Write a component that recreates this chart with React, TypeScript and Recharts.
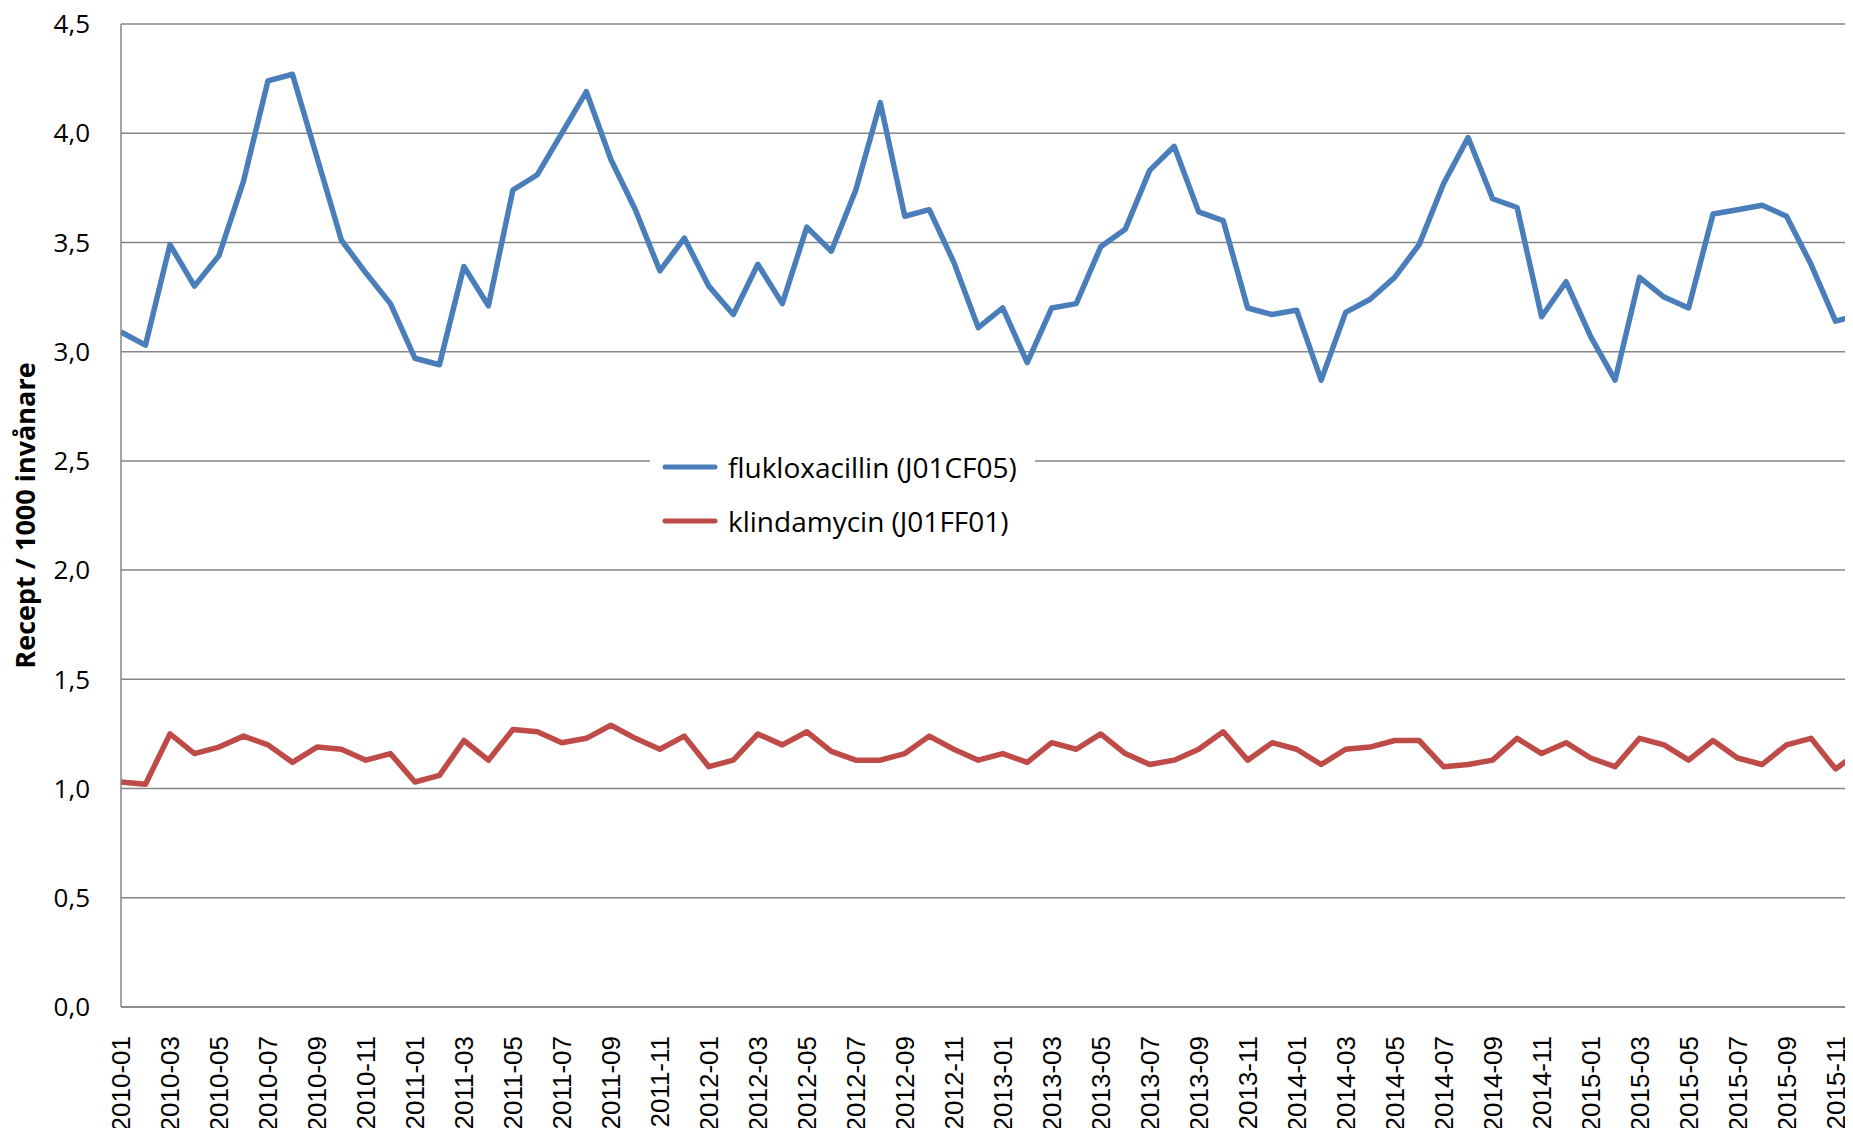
import React from 'react';
import { LineChart, Line, XAxis, YAxis, CartesianGrid, Legend } from 'recharts';

// categories: monthly, 2010-01 .. 2015-12
const years = ['2010', '2011', '2012', '2013', '2014', '2015'];
const monthNums = ['01', '02', '03', '04', '05', '06', '07', '08', '09', '10', '11', '12'];
const periods = years.flatMap((y) => monthNums.map((m) => `${y}-${m}`));

// recept / 1000 invånare
const flukloxacillin = [
  3.09, 3.03, 3.49, 3.30, 3.44, 3.78, 4.24, 4.27, 3.89, 3.51,
  3.36, 3.22, 2.97, 2.94, 3.39, 3.21, 3.74, 3.81, 4.00, 4.19,
  3.88, 3.65, 3.37, 3.52, 3.30, 3.17, 3.40, 3.22, 3.57, 3.46,
  3.74, 4.14, 3.62, 3.65, 3.41, 3.11, 3.20, 2.95, 3.20, 3.22,
  3.48, 3.56, 3.83, 3.94, 3.64, 3.60, 3.20, 3.17, 3.19, 2.87,
  3.18, 3.24, 3.34, 3.49, 3.77, 3.98, 3.70, 3.66, 3.16, 3.32,
  3.07, 2.87, 3.34, 3.25, 3.20, 3.63, 3.65, 3.67, 3.62, 3.40, 3.14, 3.17,
];

const klindamycin = [
  1.03, 1.02, 1.25, 1.16, 1.19, 1.24, 1.20, 1.12, 1.19, 1.18,
  1.13, 1.16, 1.03, 1.06, 1.22, 1.13, 1.27, 1.26, 1.21, 1.23,
  1.29, 1.23, 1.18, 1.24, 1.10, 1.13, 1.25, 1.20, 1.26, 1.17,
  1.13, 1.13, 1.16, 1.24, 1.18, 1.13, 1.16, 1.12, 1.21, 1.18,
  1.25, 1.16, 1.11, 1.13, 1.18, 1.26, 1.13, 1.21, 1.18, 1.11,
  1.18, 1.19, 1.22, 1.22, 1.10, 1.11, 1.13, 1.23, 1.16, 1.21,
  1.14, 1.10, 1.23, 1.20, 1.13, 1.22, 1.14, 1.11, 1.20, 1.23, 1.09, 1.17,
];

const yTicks = [0, 0.5, 1, 1.5, 2, 2.5, 3, 3.5, 4, 4.5];

const BLUE = '#4a7ebb';
const RED = '#be4b48';
const GRID = '#868686';
const FONT = '"Open Sans", sans-serif';

const chartData = periods.map((p, i) => ({
  period: p,
  fluk: flukloxacillin[i],
  klin: klindamycin[i],
}));

const fmt = (v: number) => v.toFixed(1).replace('.', ',');

function MonthTick(props: any) {
  const { x, y, payload } = props;
  return (
    <g transform={`translate(${x},${y})`}>
      <text
        transform="rotate(-90)"
        x={-21}
        y={0}
        dy="0.36em"
        textAnchor="end"
        fill="#000"
        style={{ fontFamily: '"Liberation Sans", Arial, sans-serif', fontSize: 26 }}
      >
        {payload.value}
      </text>
    </g>
  );
}

function YLabel(props: any) {
  const { viewBox } = props;
  const cx = 24;
  const cy = viewBox.y + viewBox.height / 2;
  return (
    <text
      x={cx}
      y={cy}
      transform={`rotate(-90, ${cx}, ${cy})`}
      textAnchor="middle"
      dominantBaseline="central"
      fill="#000"
      style={{ fontFamily: FONT, fontSize: 27, fontWeight: 700 }}
    >
      Recept / 1000 invånare
    </text>
  );
}

function LegendBox(props: any) {
  const { payload } = props;
  return (
    <div style={{ background: '#fff', width: 385 }}>
      {(payload || []).map((entry: any) => (
        <div key={entry.value} style={{ display: 'flex', alignItems: 'center', height: 54 }}>
          <svg width={56} height={10} style={{ marginLeft: 12, marginRight: 10, flex: 'none' }}>
            <line x1={3} y1={5} x2={53} y2={5} stroke={entry.color} strokeWidth={5} strokeLinecap="round" />
          </svg>
          <span style={{ fontFamily: FONT, fontSize: 28, color: '#000', whiteSpace: 'nowrap' }}>
            {entry.value}
          </span>
        </div>
      ))}
    </div>
  );
}

export default function App() {
  return (
    <div
      style={{
        margin: -8,
        width: 1853,
        height: 1136,
        overflow: 'hidden',
        position: 'relative',
        background: '#fff',
      }}
    >
      <LineChart width={1870} height={1136} data={chartData} margin={{ top: 24, right: 10, bottom: 0, left: 0 }}>
        <CartesianGrid vertical={false} stroke={GRID} strokeWidth={1.5} />
        <XAxis
          dataKey="period"
          interval={1}
          tickLine={false}
          axisLine={{ stroke: GRID, strokeWidth: 1.5 }}
          height={129}
          tick={<MonthTick />}
        />
        <YAxis
          width={121}
          domain={[0, 4.5]}
          ticks={yTicks}
          tickFormatter={fmt}
          tickLine={false}
          tickSize={0}
          tickMargin={31}
          axisLine={{ stroke: GRID, strokeWidth: 1.5 }}
          tick={{ fill: '#000', fontFamily: FONT, fontSize: 26 }}
          label={<YLabel />}
        />
        <Legend
          layout="vertical"
          align="center"
          verticalAlign="middle"
          wrapperStyle={{ left: 650, top: 440, width: 385 }}
          content={<LegendBox />}
        />
        <Line
          type="linear"
          dataKey="fluk"
          name="flukloxacillin (J01CF05)"
          stroke={BLUE}
          strokeWidth={5.5}
          strokeLinejoin="round"
          dot={false}
          activeDot={false}
          isAnimationActive={false}
        />
        <Line
          type="linear"
          dataKey="klin"
          name="klindamycin (J01FF01)"
          stroke={RED}
          strokeWidth={5.5}
          strokeLinejoin="round"
          dot={false}
          activeDot={false}
          isAnimationActive={false}
        />
      </LineChart>
    </div>
  );
}
